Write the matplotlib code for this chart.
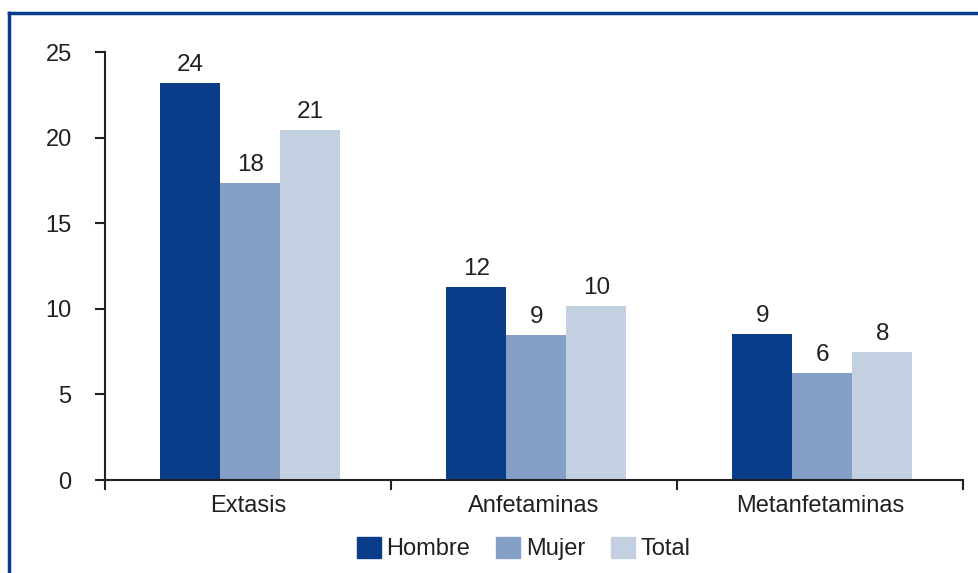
import matplotlib.pyplot as plt
import numpy as np
from matplotlib.lines import Line2D
from matplotlib.patches import Patch

plt.rcParams['font.family'] = ['Liberation Sans', 'DejaVu Sans']

categories = ['Extasis', 'Anfetaminas', 'Metanfetaminas']
series = ['Hombre', 'Mujer', 'Total']
hombre = [23.2, 11.3, 8.55]
mujer = [17.35, 8.45, 6.25]
total = [20.45, 10.15, 7.5]
# labels as printed on the chart (rounded)
hombre_lbl = ['24', '12', '9']
mujer_lbl = ['18', '9', '6']
total_lbl = ['21', '10', '8']

colors = ['#0a3d89', '#84a0c6', '#c3d0e2']
txt = '#231f20'

fig = plt.figure(figsize=(9.79, 5.73), dpi=100)
ax = fig.add_axes([0.1073, 0.1623, 0.8764, 0.7469])

x = np.arange(len(categories))
w = 0.21
values = [hombre, mujer, total]
labels = [hombre_lbl, mujer_lbl, total_lbl]
for i in range(3):
    pos = x + (i - 1) * w + 0.008
    bars = ax.bar(pos, values[i], width=w, color=colors[i], label=series[i])
    for b, t in zip(bars, labels[i]):
        ax.text(b.get_x() + b.get_width() / 2, b.get_height() + 0.4, t,
                ha='center', va='bottom', fontsize=17.5, color=txt)

ax.set_xlim(-0.5, 2.5)
ax.set_ylim(0, 25)
ax.set_yticks([0, 5, 10, 15, 20, 25])
ax.set_xticks([-0.5, 0.5, 1.5, 2.5])
ax.set_xticklabels([])
ax.set_xticks(x, minor=True)
ax.set_xticklabels(categories, minor=True, fontsize=17, color=txt)
ax.tick_params(axis='x', which='minor', length=0, pad=11)
ax.tick_params(axis='x', which='major', length=7, width=1.5, direction='out', color=txt)
ax.tick_params(axis='y', length=7, width=1.5, direction='out', labelsize=17,
               color=txt, labelcolor=txt, pad=17)
for s in ['top', 'right']:
    ax.spines[s].set_visible(False)
for s in ['left', 'bottom']:
    ax.spines[s].set_linewidth(1.5)
    ax.spines[s].set_color(txt)

handles = [Patch(color=c) for c in colors]
fig.legend(handles, series, loc='center', bbox_to_anchor=(0.535, 0.043), ncol=3,
           frameon=False, fontsize=17, handlelength=1.0, handleheight=1.0,
           handletextpad=0.25, columnspacing=1.1, labelcolor=txt)

# outer frame (top and left edges)
fig.add_artist(Line2D([9 / 979, 1.0], [1 - 13 / 573, 1 - 13 / 573],
                      transform=fig.transFigure, color='#0a3d89', lw=2.5))
fig.add_artist(Line2D([9 / 979, 9 / 979], [0, 1 - 13 / 573],
                      transform=fig.transFigure, color='#0a3d89', lw=2.5))

fig.savefig('out.png', dpi=100)
